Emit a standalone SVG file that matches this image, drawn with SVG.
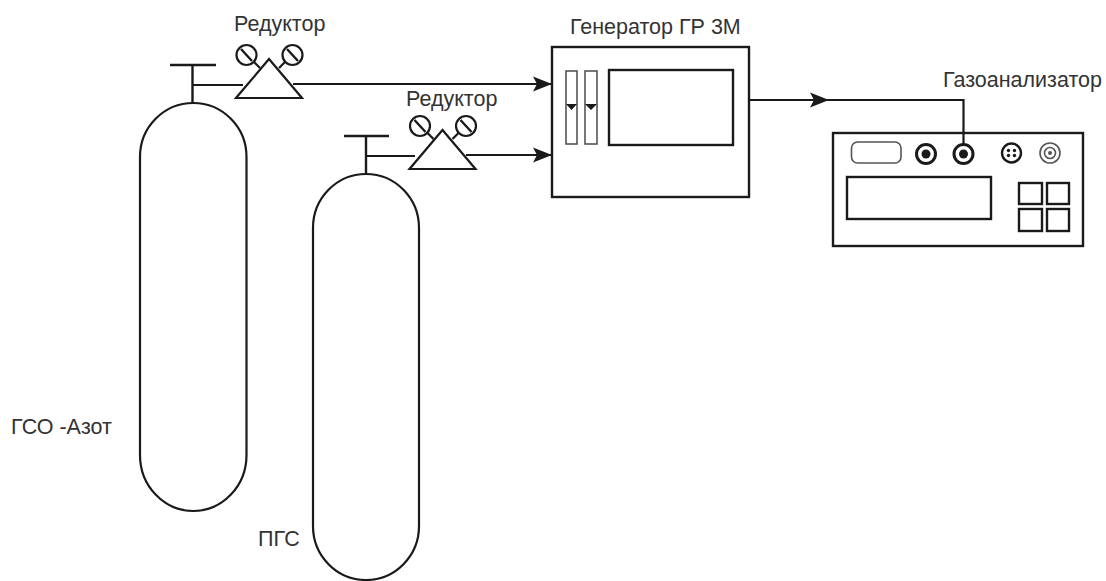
<svg xmlns="http://www.w3.org/2000/svg" width="1106" height="581" viewBox="0 0 1106 581">
<style>
.l{fill:none;stroke:#1a1a1a;stroke-width:2.2}
.t{fill:none;stroke:#1a1a1a;stroke-width:2.4}
.w{fill:#fff;stroke:#1a1a1a;stroke-width:2.2}
.g{fill:#fff;stroke:#555;stroke-width:1.6}
.d{fill:#1a1a1a}
text{font-family:"Liberation Sans",Arial,sans-serif;font-size:21.500px;fill:#333}
</style>
<defs>
<marker id="arrow" markerUnits="userSpaceOnUse" markerWidth="20" markerHeight="16" refX="19" refY="8" orient="auto"><path d="M0 .5L19 8L0 15.500L4 8Z" fill="#1a1a1a"/></marker>
<g id="reducer">
<path class="w" d="M236 98H302L269 59Z"/>
<circle class="l" cx="246.500" cy="55" r="10"/><circle class="l" cx="292.500" cy="55" r="10"/>
<path class="t" stroke-width="3" d="M241 49L252 61M287 49L298 61"/>
<path class="l" d="M254 62L260 68M285 62L279 68"/>
</g>
</defs>
<g id="connectors">
<path class="l" d="M192.500 85H243"/>
<path class="l" d="M293 84H552" marker-end="url(#arrow)"/>
<path class="l" d="M366 156H415"/>
<path class="l" d="M466 155H552" marker-end="url(#arrow)"/>
<path class="l" d="M749 100H829" marker-end="url(#arrow)"/>
<path class="l" d="M825 100H963.500V154"/>
</g>
<g id="cylinder-n2">
<path class="t" d="M170 65H216M192.500 65V103"/>
<path class="l" d="M140 455V157A53.250 54 0 0 1 246.500 157V455A53.250 56 0 0 1 140 455Z"/>
<text x="11" y="434">ГСО -Азот</text>
</g>
<g id="cylinder-pgs">
<path class="t" d="M344 136H389M366 136V175"/>
<path class="l" d="M313 526V228A53 54 0 0 1 419 228V526A53 54 0 0 1 313 526Z"/>
<text x="258" y="545.500">ПГС</text>
</g>
<g id="reducer-1"><use href="#reducer"/><text x="234" y="30.500">Редуктор</text></g>
<g id="reducer-2"><use href="#reducer" x="173.500" y="71"/><text x="406" y="106">Редуктор</text></g>
<g id="generator">
<rect class="t" x="552" y="47" width="197" height="150" fill="none"/>
<rect class="g" x="566" y="71" width="11" height="73"/>
<rect class="g" x="585" y="71" width="12" height="73"/>
<path class="d" d="M566 104H577L571.500 110ZM585 104H597L591 110Z"/>
<rect class="t" x="609" y="70" width="124" height="75"/>
<text x="570" y="34">Генератор ГР 3М</text>
</g>
<g id="analyzer">
<rect class="t" x="833" y="133" width="250" height="113"/>
<rect class="g" x="851.500" y="142" width="49.500" height="21" rx="6"/>
<circle cx="926" cy="154" r="9.500" fill="#fff" stroke="#1a1a1a" stroke-width="3"/><circle class="d" cx="926" cy="154" r="4.500"/>
<circle cx="963.500" cy="154" r="9.500" fill="#fff" stroke="#1a1a1a" stroke-width="3"/><circle class="d" cx="963.500" cy="154" r="4.500"/>
<circle cx="1011.500" cy="153" r="9.500" fill="#fff" stroke="#1a1a1a" stroke-width="2.400"/>
<circle class="d" cx="1008.500" cy="150.500" r="1.700"/><circle class="d" cx="1014.500" cy="150.500" r="1.700"/><circle class="d" cx="1008.500" cy="155.500" r="1.700"/><circle class="d" cx="1014.500" cy="155.500" r="1.700"/>
<circle class="g" cx="1050" cy="153" r="10"/><circle class="g" cx="1050" cy="153" r="5.500"/><circle cx="1050" cy="153" r="2" fill="#555"/>
<rect class="t" x="847" y="177" width="144" height="42"/>
<rect class="t" x="1019" y="183" width="23" height="21"/><rect class="t" x="1047" y="183" width="22" height="21"/>
<rect class="t" x="1019" y="209" width="23" height="22"/><rect class="t" x="1047" y="209" width="22" height="22"/>
<text x="943" y="86.500">Газоанализатор</text>
</g>
</svg>
